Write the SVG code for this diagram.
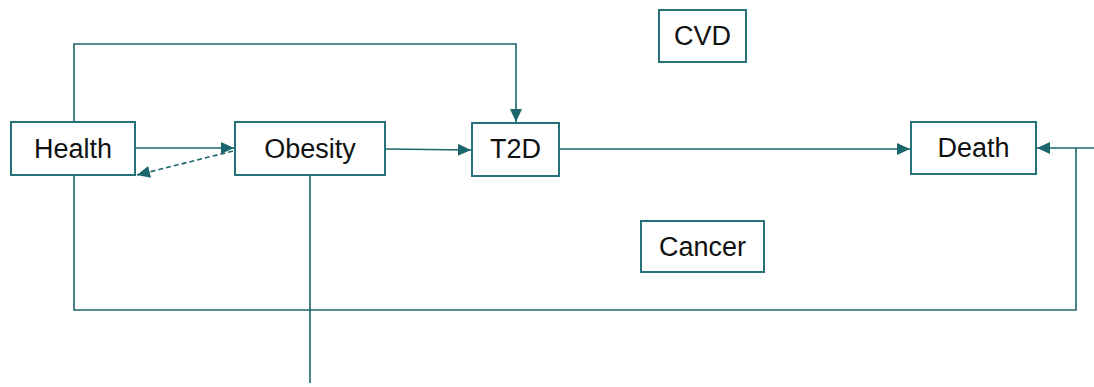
<svg xmlns="http://www.w3.org/2000/svg" width="1094" height="387" viewBox="0 0 1094 387">
  <style>
    .box { fill: #ffffff; stroke: #26727a; stroke-width: 2; }
    .lbl { font-family: "Liberation Sans", Arial, sans-serif; font-size: 27px; fill: #111111; text-anchor: middle; }
    .ln { fill: none; stroke: #1b656c; stroke-width: 1.6; }
    .dash { stroke-dasharray: 5 3; }
  </style>
  <defs>
    <marker id="ah" markerUnits="userSpaceOnUse" markerWidth="14" markerHeight="12" refX="13" refY="6" orient="auto">
      <path d="M0,0 L13,6 L0,12 z" fill="#1b656c"/>
    </marker>
  </defs>

  <g id="connectors">
    <!-- Health over the top to T2D -->
    <path class="ln" d="M74,122 V44 H516 V122" marker-end="url(#ah)"/>
    <!-- Health to Obesity -->
    <path class="ln" d="M135,148 H234" marker-end="url(#ah)"/>
    <!-- Obesity back to Health (dashed) -->
    <path class="ln dash" d="M233,151 L137,175" marker-end="url(#ah)"/>
    <!-- Obesity to T2D -->
    <path class="ln" d="M385,149 L471,150" marker-end="url(#ah)"/>
    <!-- T2D to Death -->
    <path class="ln" d="M559,149 H910" marker-end="url(#ah)"/>
    <!-- Health around the bottom to Death -->
    <path class="ln" d="M74,175 V310 H1076 V148"/>
    <path class="ln" d="M1094,148 H1037" marker-end="url(#ah)"/>
    <!-- Obesity downward -->
    <path class="ln" d="M310,175 V383"/>
  </g>

  <g id="health">
    <rect class="box" x="11" y="122" width="124" height="53"/>
    <text class="lbl" x="73" y="158">Health</text>
  </g>
  <g id="obesity">
    <rect class="box" x="235" y="122" width="150" height="53"/>
    <text class="lbl" x="310" y="158">Obesity</text>
  </g>
  <g id="t2d">
    <rect class="box" x="472" y="123" width="87" height="53"/>
    <text class="lbl" x="515.5" y="158">T2D</text>
  </g>
  <g id="death">
    <rect class="box" x="911" y="122" width="125" height="52"/>
    <text class="lbl" x="973.5" y="157">Death</text>
  </g>
  <g id="cvd">
    <rect class="box" x="659" y="10" width="87" height="52"/>
    <text class="lbl" x="702.5" y="45">CVD</text>
  </g>
  <g id="cancer">
    <rect class="box" x="641" y="221" width="123" height="51"/>
    <text class="lbl" x="702.5" y="256">Cancer</text>
  </g>
</svg>
